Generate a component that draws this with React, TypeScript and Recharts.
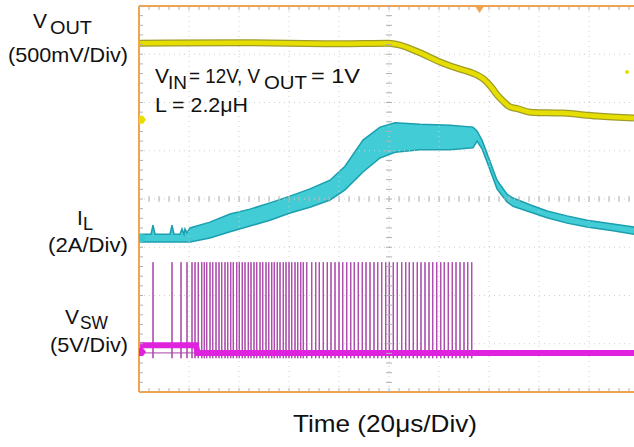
import React from 'react';
import {
  ComposedChart,
  Line,
  Area,
  Scatter,
  XAxis,
  YAxis,
  ReferenceLine,
  ReferenceDot,
} from 'recharts';

// Time in µs (20 µs/div, 0..198 µs visible), amplitudes in screen divisions (0..8)

// V_OUT trace
const voutTime = [0, 40, 80, 100, 104.4, 112.4, 120.4, 128.4, 132.4, 135.2, 137.2, 139.2, 141.2, 143.2, 145.6, 148.4, 151.6, 156.4, 169.6, 183.2, 198];
const voutDiv = [7.23, 7.24, 7.22, 7.23, 7.19, 7.03, 6.84, 6.69, 6.63, 6.57, 6.51, 6.42, 6.3, 6.16, 6.03, 5.91, 5.87, 5.8, 5.78, 5.72, 5.68];

// I_L trace (ripple envelope)
const ilTime = [0, 4.8, 5.6, 6.4, 12.4, 13.2, 14.0, 16.4, 17.2, 18.0, 18.4, 19.2, 20.4, 28.4, 36.4, 44.4, 52.4, 60.4, 68.4, 76.4, 82.4, 89.6, 96.4, 102.4, 112.4, 124.4, 133.6, 135.2, 137.2, 139.2, 143.2, 147.2, 149.6, 156.4, 163.2, 171.2, 179.2, 189.6, 198];
const ilHigh = [3.27, 3.27, 3.46, 3.27, 3.27, 3.46, 3.27, 3.27, 3.38, 3.27, 3.38, 3.3, 3.4, 3.52, 3.69, 3.79, 3.92, 4.06, 4.21, 4.39, 4.68, 5.22, 5.49, 5.58, 5.55, 5.53, 5.49, 5.41, 5.22, 4.95, 4.39, 4.1, 4.02, 3.88, 3.75, 3.65, 3.56, 3.48, 3.42];
const ilLow = [3.11, 3.11, 3.11, 3.11, 3.11, 3.11, 3.11, 3.11, 3.11, 3.11, 3.11, 3.11, 3.11, 3.19, 3.32, 3.44, 3.56, 3.71, 3.83, 3.98, 4.19, 4.56, 4.85, 4.97, 5.02, 5.02, 5.06, 5.2, 5.04, 4.77, 4.21, 3.94, 3.85, 3.73, 3.61, 3.5, 3.42, 3.34, 3.27];

// V_SW trace
const vswBaseTime = [0, 22.8, 23.4, 198];
const vswBaseDiv = [0.97, 0.97, 0.81, 0.81];
const vswSpikeTimes = [
  5.6, 13.2, 16.8, 19.2, 21.2, 22.4, 23.7, 25.1, 26.1, 27.1, 28.4, 29.5, 30.8, 32.0, 33.1, 34.4, 35.5, 36.7, 37.7, 39.1,
  40.1, 41.3, 42.4, 43.7, 44.8, 46.0, 47.1, 48.4, 49.5, 50.8, 51.9, 53.1, 54.1, 55.3, 56.4, 57.7, 58.8, 60.0, 61.1, 62.4,
  63.5, 64.7, 65.7, 67.1, 69.1, 70.7, 72.1, 73.7, 75.3, 76.8, 78.4, 80.0, 81.5, 83.1, 84.7, 86.1, 87.7, 89.3, 90.8, 92.4,
  94.0, 95.5, 97.1, 98.7, 100.1, 101.7, 103.3, 105.1, 106.7, 108.1, 109.7, 111.3, 112.8, 114.4, 116.0, 117.5, 119.1, 120.7,
  122.1, 123.7, 125.3, 126.8, 128.4, 130.0, 131.5, 133.1,
];
const vswSpikeTop = 2.69;
const vswSpikeLow = 0.7;
const vswRest = 0.81;

// Channel ground markers / trigger
const markerDiv = { vout: 5.64, il: 3.19, vsw: 0.83 };
const triggerTime = 136.2;

// Grid
const majorTimes = [20, 40, 60, 80, 100, 120, 140, 160, 180];
const majorDivs = [1, 2, 3, 4, 5, 6, 7];
const minorTimes = Array.from({ length: 50 }, (_, i) => i * 4);
const minorDivs = Array.from({ length: 41 }, (_, i) => Math.round(i * 2) / 10);

const voutData = voutTime.map((t, i) => ({ t, v: voutDiv[i] }));
const ilData = ilTime.map((t, i) => ({ t, r: [ilLow[i], ilHigh[i]] }));
const vswBaseData = vswBaseTime.map((t, i) => ({ t, v: vswBaseDiv[i] }));
const vswSpikeData: { t: number; v: number }[] = [{ t: 0, v: vswRest }];
vswSpikeTimes.forEach((t) => {
  vswSpikeData.push({ t, v: vswRest }, { t, v: vswSpikeTop }, { t, v: vswSpikeLow }, { t, v: vswRest });
});
vswSpikeData.push({ t: 198, v: vswRest });

const centerHTicks = minorTimes.map((t) => ({ t, v: 4 }));
const centerVTicks = minorDivs.map((v) => ({ t: 100, v }));
const topTicks = minorTimes.map((t) => ({ t, v: 8 }));
const bottomTicks = minorTimes.map((t) => ({ t, v: 0 }));
const leftTicks = minorDivs.map((v) => ({ t: 0, v }));

const TICK = '#B0B0B0';
const GRID = '#CFCFCF';
const FRAME = '#F2A34C';
const FONT = "'Liberation Sans', Arial, Helvetica, sans-serif";

const vTick = (p: any) => <line x1={p.cx} x2={p.cx} y1={p.cy - 3} y2={p.cy + 3} stroke={TICK} strokeWidth={1} />;
const hTick = (p: any) => <line x1={p.cx - 3} x2={p.cx + 3} y1={p.cy} y2={p.cy} stroke={TICK} strokeWidth={1} />;
const downTick = (p: any) => <line x1={p.cx} x2={p.cx} y1={p.cy} y2={p.cy + 4} stroke={TICK} strokeWidth={1} />;
const upTick = (p: any) => <line x1={p.cx} x2={p.cx} y1={p.cy - 4} y2={p.cy} stroke={TICK} strokeWidth={1} />;
const rightTick = (p: any) => <line x1={p.cx} x2={p.cx + 4} y1={p.cy} y2={p.cy} stroke={TICK} strokeWidth={1} />;

const arrowMarker = (color: string) => (p: any) => (
  <polygon
    points={`${p.cx},${p.cy - 4} ${p.cx + 4},${p.cy - 4} ${p.cx + 7},${p.cy} ${p.cx + 4},${p.cy + 4} ${p.cx},${p.cy + 4}`}
    fill={color}
  />
);
const triggerShape = (p: any) => (
  <polygon points={`${p.cx - 4},${p.cy + 1} ${p.cx + 4},${p.cy + 1} ${p.cx},${p.cy + 7}`} fill={FRAME} />
);

function Labels() {
  const la = 'spacingAndGlyphs' as const;
  return (
    <svg
      width={634}
      height={447}
      style={{ position: 'absolute', left: 0, top: 0, pointerEvents: 'none' }}
      fontFamily={FONT}
      fill="#111111"
    >
      <text x={33} y={28} fontSize={21}>V</text>
      <text x={50} y={34} fontSize={18} textLength={42} lengthAdjust={la}>OUT</text>
      <text x={8} y={62} fontSize={21} textLength={120} lengthAdjust={la}>(500mV/Div)</text>

      <text x={77} y={225} fontSize={21}>I</text>
      <text x={83} y={230} fontSize={18}>L</text>
      <text x={48} y={252} fontSize={21} textLength={80} lengthAdjust={la}>(2A/Div)</text>

      <text x={65} y={324} fontSize={21}>V</text>
      <text x={80} y={329} fontSize={18} textLength={28} lengthAdjust={la}>SW</text>
      <text x={50} y={352} fontSize={21} textLength={78} lengthAdjust={la}>(5V/Div)</text>

      <text x={155} y={83} fontSize={21}>V</text>
      <text x={168} y={89} fontSize={18} textLength={19} lengthAdjust={la}>IN</text>
      <text x={189} y={83} fontSize={21} textLength={71} lengthAdjust={la}>= 12V, V</text>
      <text x={264} y={89} fontSize={18} textLength={43} lengthAdjust={la}>OUT</text>
      <text x={311} y={83} fontSize={21} textLength={49} lengthAdjust={la}>= 1V</text>
      <text x={155} y={112} fontSize={21} textLength={93} lengthAdjust={la}>L = 2.2μH</text>

      <text x={293} y={432} fontSize={24} textLength={184} lengthAdjust={la}>Time (20μs/Div)</text>
    </svg>
  );
}

export default function App() {
  return (
    <div style={{ position: 'absolute', left: 0, top: 0, width: 634, height: 447, background: '#ffffff', overflow: 'hidden' }}>
      <ComposedChart width={634} height={447} margin={{ top: 6, right: 0, bottom: 55, left: 139 }}>
        <XAxis type="number" dataKey="t" domain={[0, 198]} hide allowDataOverflow />
        <YAxis type="number" domain={[0, 8]} hide allowDataOverflow />

        {majorTimes.map((t) => (
          <ReferenceLine key={`gx${t}`} x={t} stroke={GRID} strokeDasharray="1 4" strokeWidth={1} />
        ))}
        {majorDivs.map((v) => (
          <ReferenceLine key={`gy${v}`} y={v} stroke={GRID} strokeDasharray="1 4" strokeWidth={1} />
        ))}

        <Scatter data={centerHTicks} dataKey="v" shape={vTick} isAnimationActive={false} />
        <Scatter data={centerVTicks} dataKey="v" shape={hTick} isAnimationActive={false} />
        <Scatter data={topTicks} dataKey="v" shape={downTick} isAnimationActive={false} />
        <Scatter data={bottomTicks} dataKey="v" shape={upTick} isAnimationActive={false} />
        <Scatter data={leftTicks} dataKey="v" shape={rightTick} isAnimationActive={false} />

        <Line data={vswSpikeData} dataKey="v" type="linear" stroke="#A843A8" strokeWidth={1} dot={false} isAnimationActive={false} />
        <Line data={vswBaseData} dataKey="v" type="linear" stroke="#DE22DE" strokeWidth={6} dot={false} isAnimationActive={false} />

        <Area data={ilData} dataKey="r" type="linear" stroke="#1B9FAE" strokeWidth={1.5} fill="#2CC6D2" fillOpacity={0.9} dot={false} isAnimationActive={false} />

        <Line data={voutData} dataKey="v" type="monotone" stroke="#A09C2A" strokeWidth={7} dot={false} isAnimationActive={false} />
        <Line data={voutData} dataKey="v" type="monotone" stroke="#E6DE00" strokeWidth={4.5} dot={false} isAnimationActive={false} />

        <ReferenceLine y={8} stroke={FRAME} strokeWidth={2} />
        <ReferenceLine y={0} stroke={FRAME} strokeWidth={2} />
        <ReferenceLine x={0} stroke={FRAME} strokeWidth={2} />

        <ReferenceDot x={0} y={markerDiv.vout} r={4} shape={arrowMarker('#E6DE00')} />
        <ReferenceDot x={0} y={markerDiv.il} r={4} shape={arrowMarker('#34C8D2')} />
        <ReferenceDot x={0} y={markerDiv.vsw} r={4} shape={arrowMarker('#DE22DE')} />
        <ReferenceDot x={triggerTime} y={8} r={4} shape={triggerShape} />
        <ReferenceDot x={195.2} y={6.63} r={2} fill="#E6DE00" stroke="none" />
      </ComposedChart>
      <Labels />
    </div>
  );
}
